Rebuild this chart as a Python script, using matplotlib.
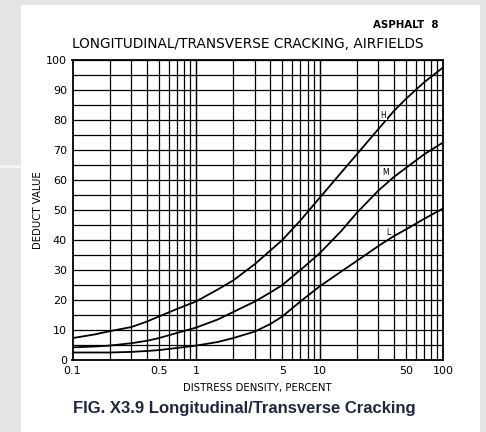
import matplotlib
matplotlib.use("Agg")
import matplotlib.pyplot as plt
from matplotlib.patches import Rectangle

# values
density = [0.1, 0.15, 0.2, 0.3, 0.4, 0.5, 0.7, 1, 1.5, 2, 3, 4, 5, 7, 10, 15, 20, 30, 40, 50, 70, 100]
high = [7.3, 8.5, 9.6, 11.0, 12.8, 14.5, 17.0, 19.5, 23.5, 26.5, 32.0, 36.5, 40.0, 46.5, 54.0, 62.5, 68.5, 77.0, 83.0, 87.0, 92.5, 97.5]
medium = [4.2, 4.5, 4.8, 5.6, 6.4, 7.3, 9.0, 10.8, 13.5, 16.0, 19.5, 22.5, 25.0, 30.0, 35.5, 43.0, 49.0, 56.5, 61.0, 64.0, 68.5, 72.5]
low = [2.5, 2.5, 2.5, 2.7, 3.0, 3.3, 4.0, 4.8, 6.0, 7.3, 9.5, 12.0, 14.5, 19.5, 24.5, 29.5, 33.0, 38.0, 41.3, 43.5, 47.0, 50.5]

xticks = [0.1, 0.5, 1, 5, 10, 50, 100]
xticklabels = ["0.1", "0.5", "1", "5", "10", "50", "100"]
yticks = list(range(0, 101, 10))

label_pos = {"H": (33, 81.5), "M": (34, 62.5), "L": (36, 42.5)}

W, H = 486, 432
fig = plt.figure(figsize=(W / 100, H / 100), dpi=100, facecolor="#e4e4e4")

# white page area over the grey viewer background
fig.patches.append(Rectangle((21 / W, 0), (480 - 21) / W, (H - 5) / H,
                             transform=fig.transFigure, facecolor="white",
                             edgecolor="none", zorder=-2))
fig.patches.append(Rectangle((0, (H - 168) / H), 21 / W, 3 / H,
                             transform=fig.transFigure, facecolor="#f4f4f4",
                             edgecolor="none", zorder=-2))

ax = fig.add_axes([72.5 / W, (H - 360) / H, (443 - 72.5) / W, (360 - 60) / H])
ax.set_zorder(1)
ax.set_facecolor("white")
ax.set_xscale("log")
ax.set_xlim(0.1, 100)
ax.set_ylim(0, 100)

# the printed grid: every 5 units up, every log step across
for v in range(0, 101, 5):
    ax.axhline(v, color="black", lw=0.9, zorder=1)
for dec in [0.1, 1, 10]:
    for k in range(1, 11):
        ax.axvline(dec * k, color="black", lw=0.9, zorder=1)

ax.plot(density, high, color="black", lw=1.3, zorder=3)
ax.plot(density, medium, color="black", lw=1.3, zorder=3)
ax.plot(density, low, color="black", lw=1.3, zorder=3)

for name, (lx, ly) in label_pos.items():
    ax.text(lx, ly, name, fontsize=5.5, ha="center", va="center", zorder=4,
            bbox=dict(facecolor="white", edgecolor="none", pad=0.3))

ax.set_xticks(xticks)
ax.set_xticklabels(xticklabels)
ax.set_yticks(yticks)
ax.xaxis.set_minor_locator(matplotlib.ticker.NullLocator())
ax.tick_params(length=0, labelsize=8, pad=4)
for s in ax.spines.values():
    s.set_linewidth(1.3)

ax.set_xlabel("DISTRESS DENSITY, PERCENT", fontsize=7.3, labelpad=5)
ax.set_ylabel("DEDUCT VALUE", fontsize=7.3, labelpad=2)

fig.text(72.5 / W, 1 - 44 / H, "LONGITUDINAL/TRANSVERSE CRACKING, AIRFIELDS",
         fontsize=9.8, ha="left", va="center")
fig.text(438 / W, 1 - 25 / H, "ASPHALT  8", fontsize=7.4, ha="right", va="center",
         fontweight="bold")
fig.text(73 / W, 1 - 409 / H, "FIG. X3.9 Longitudinal/Transverse Cracking",
         fontsize=12, fontweight="bold", family="Liberation Sans",
         color="#1f2640", ha="left", va="center")

fig.savefig("out.png", dpi=100, facecolor=fig.get_facecolor())
